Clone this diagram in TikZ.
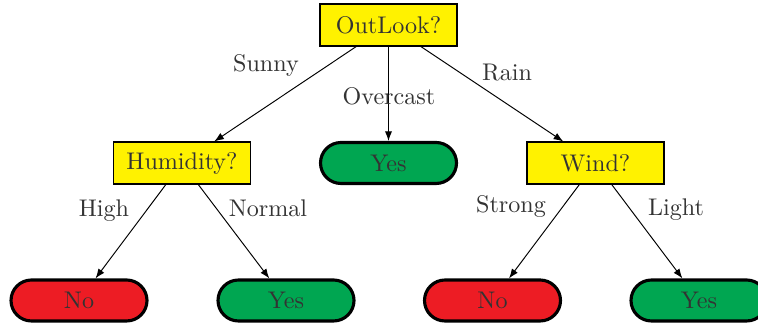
\documentclass[tikz,border=0pt]{standalone}
\usetikzlibrary{arrows.meta}
\definecolor{qyellow}{HTML}{FFF200}
\definecolor{qred}{HTML}{ED1C24}
\definecolor{qgreen}{HTML}{00A651}
\definecolor{qtext}{HTML}{333333}
\begin{document}
\begin{tikzpicture}[x=0.415pt,y=-0.415pt,
  qbox/.style={draw=black,line width=0.45pt,fill=qyellow,minimum width=137*0.415pt,minimum height=42*0.415pt,inner sep=0pt,text=qtext},
  leaf/.style={draw=black,line width=1.3pt,minimum width=136*0.415pt,minimum height=41*0.415pt,rounded corners=20.5*0.415pt,inner sep=0pt,text=qtext},
  yesleaf/.style={leaf,fill=qgreen},
  noleaf/.style={leaf,fill=qred},
  conn/.style={-{Latex[length=4pt,width=3pt]},line width=0.4pt,black},
  lbl/.style={text=qtext,inner sep=0pt}]
\useasboundingbox (0,0) rectangle (758,323);
\clip (0,0) rectangle (758,323);
\node[qbox] (out) at (388.5,25) {OutLook?};
\node[qbox] (hum) at (182,163) {Humidity?};
\node[yesleaf] (ov) at (388.5,163) {Yes};
\node[qbox] (wind) at (595.5,163) {Wind?};
\node[noleaf] (n1) at (79,300.5) {No};
\node[yesleaf] (y1) at (286,300.5) {Yes};
\node[noleaf] (n2) at (492.5,300.5) {No};
\node[yesleaf] (y2) at (699,300.5) {Yes};
\draw[conn] (out) -- (hum);
\draw[conn] (out) -- (ov);
\draw[conn] (out) -- (wind);
\draw[conn] (hum) -- (n1);
\draw[conn] (hum) -- (y1);
\draw[conn] (wind) -- (n2);
\draw[conn] (wind) -- (y2);
\node[lbl] (lsunny) at (266,65) {Sunny};
\node[lbl] (lover) at (389,96) {Overcast};
\node[lbl] (lrain) at (507,73) {Rain};
\node[lbl] (lhigh) at (104,211) {High};
\node[lbl] (lnorm) at (268,208) {Normal};
\node[lbl] (lstrong) at (511,206) {Strong};
\node[lbl] (llight) at (676,210) {Light};
\end{tikzpicture}
\end{document}
